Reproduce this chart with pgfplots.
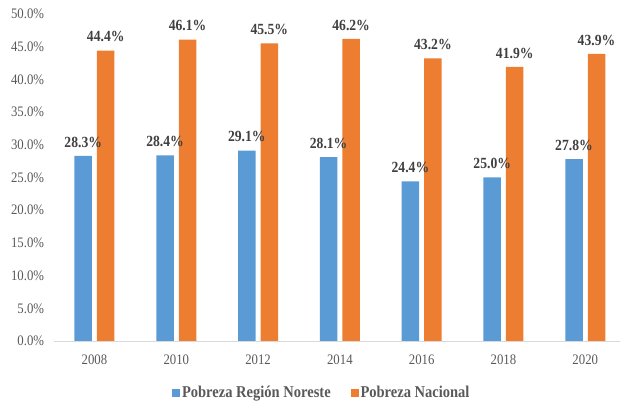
\documentclass[border=0pt]{standalone}
\usepackage{fontspec}
\setmainfont{Liberation Serif}[FakeStretch=0.88, BoldFont=Liberation Serif Bold]
\usepackage{pgfplots}
\pgfplotsset{compat=1.18}
\definecolor{xlblue}{HTML}{5B9BD5}
\definecolor{xlorange}{HTML}{ED7D31}
\definecolor{txtgray}{HTML}{595959}
\definecolor{lblgray}{HTML}{404040}
\definecolor{basegray}{HTML}{D9D9D9}

\begin{document}
\begin{tikzpicture}[x=1pt,y=1pt]
\begin{axis}[
  at={(53.6pt,63pt)}, anchor=south west,
  scale only axis, width=566pt, height=327pt,
  xmin=-0.5, xmax=6.42, ymin=0, ymax=50,
  axis x line*=bottom, axis y line*=left,
  x axis line style={draw=basegray, line width=0.8pt},
  y axis line style={draw=none},
  major tick length=0pt,
  xtick={0,...,6},
  xticklabels={2008,2010,2012,2014,2016,2018,2020},
  ytick={0,5,...,50},
  yticklabel={\pgfmathprintnumber[fixed,fixed zerofill,precision=1]{\tick}\%},
  /pgf/number format/assume math mode=true,
  ticklabel style={font=\fontsize{14.5}{16}\selectfont, text=txtgray},
  xticklabel style={yshift=-10pt},
  yticklabel style={xshift=-6pt},
  ybar, bar width=17.5pt,
  nodes near coords={\pgfmathprintnumber[fixed,fixed zerofill,precision=1]{\pgfplotspointmeta}\%},
  every node near coord/.append style={font=\bfseries\fontsize{15.5}{17}\selectfont, text=lblgray, yshift=5pt},
  legend columns=2,
  legend style={at={(0.474,-0.159)}, anchor=center, draw=none, fill=none,
    font=\bfseries\fontsize{16.5}{18}\selectfont, text=txtgray,
    /tikz/every even column/.append style={column sep=18pt}},
  clip=false,
]
\addplot[fill=xlblue, draw=none, bar shift=-11.25pt,
  legend image code/.code={\fill[xlblue] (0pt,-3.8pt) rectangle (7.8pt,3.8pt);}]
  coordinates {(0,28.3)(1,28.4)(2,29.1)(3,28.1)(4,24.4)(5,25.0)(6,27.8)};
\addlegendentry{Pobreza Región Noreste}
\addplot[fill=xlorange, draw=none, bar shift=11.25pt,
  legend image code/.code={\fill[xlorange] (0pt,-3.8pt) rectangle (7.8pt,3.8pt);}]
  coordinates {(0,44.4)(1,46.1)(2,45.5)(3,46.2)(4,43.2)(5,41.9)(6,43.9)};
\addlegendentry{Pobreza Nacional}
\end{axis}
\pgfresetboundingbox
\path (0,0) rectangle (621pt,404pt);
\end{tikzpicture}
\end{document}
